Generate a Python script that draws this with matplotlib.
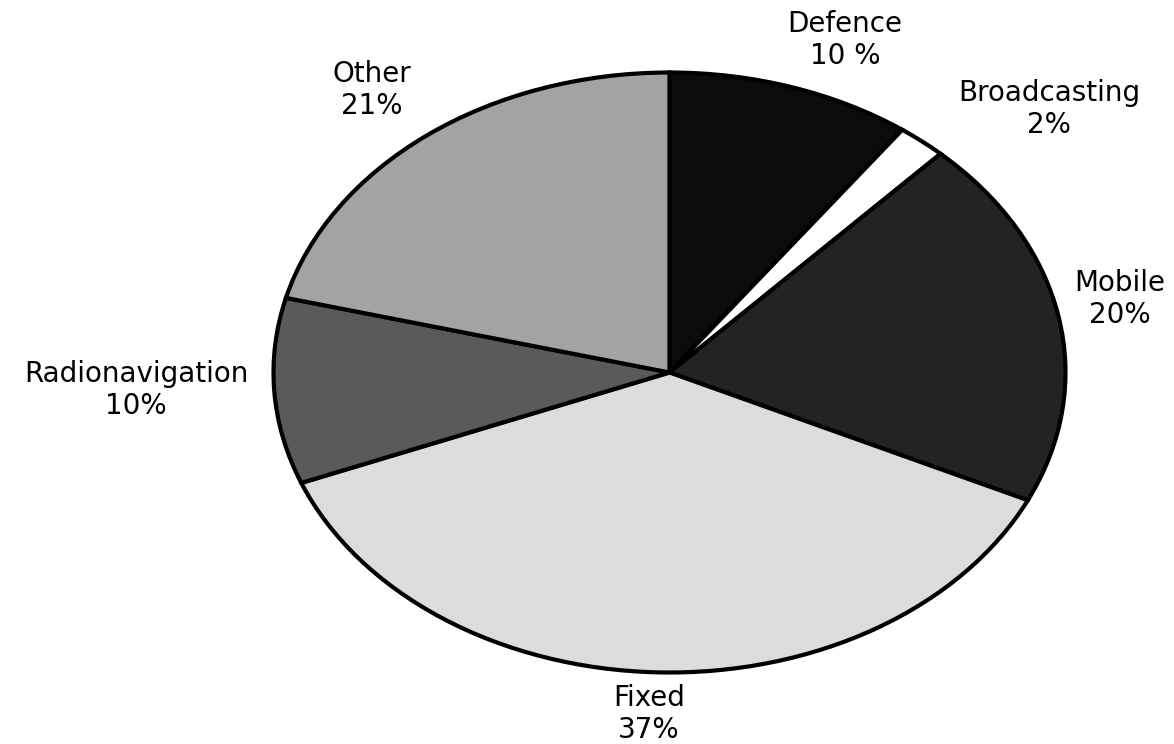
import matplotlib.pyplot as plt

# slice data, clockwise from 12 o'clock
names = ["Defence", "Broadcasting", "Mobile", "Fixed", "Radionavigation", "Other"]
shares = [10, 2, 20, 37, 10, 21]
pct_labels = ["10 %", "2%", "20%", "37%", "10%", "21%"]
colors = ["#0b0b0b", "#ffffff", "#232323", "#dcdcdc", "#5a5a5a", "#a3a3a3"]

# label centres in image pixels (x, y from top)
label_px = [(845, 40), (1049, 109), (1120, 299), (649, 714), (136, 390), (372, 90)]

W, H = 1174, 744
CX, CY = 669.5, 372.5   # pie centre, px
RX, RY = 396.0, 300.0   # pie radii, px

fig = plt.figure(figsize=(W / 100, H / 100), dpi=100)
ax = fig.add_axes([(CX - RX) / W, (H - CY - RY) / H, 2 * RX / W, 2 * RY / H])

ax.pie(shares, colors=colors, startangle=90, counterclock=False,
       wedgeprops=dict(edgecolor="black", linewidth=3.0, joinstyle="miter"))
ax.set_aspect("auto")
ax.set_xlim(-1, 1)
ax.set_ylim(-1, 1)
ax.axis("off")

for name, pct, (px, py) in zip(names, pct_labels, label_px):
    ax.text((px - CX) / RX, (CY - py) / RY, name + "\n" + pct,
            ha="center", va="center", fontsize=20, family="DejaVu Sans",
            linespacing=1.2, color="black")

fig.savefig("out.png", dpi=100, facecolor="white")
